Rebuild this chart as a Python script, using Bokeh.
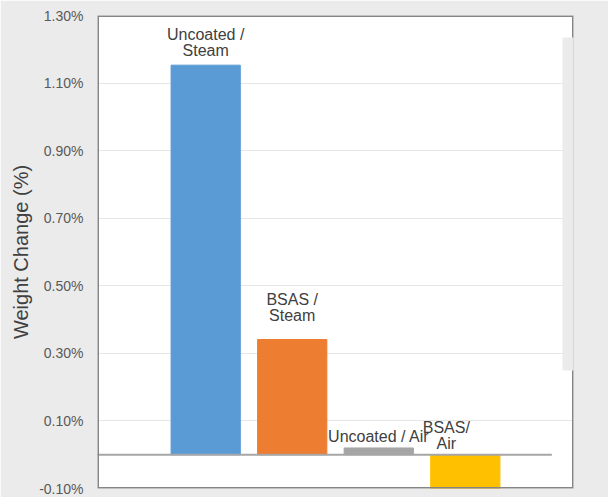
from bokeh.plotting import figure
from bokeh.models import ColumnDataSource, Range1d, FixedTicker, PrintfTickFormatter, BoxAnnotation
from bokeh.core.properties import value
from bokeh.embed import file_html
from bokeh.resources import INLINE

# ---- data ----
categories = ["Uncoated / Steam", "BSAS / Steam", "Uncoated / Air", "BSAS/ Air"]
bar_labels = ["Uncoated /\nSteam", "BSAS /\nSteam", "Uncoated / Air", "BSAS/\nAir"]
weight_change = [1.153, 0.341, 0.020, -0.100]   # percent
y_ticks = [-0.1, 0.1, 0.3, 0.5, 0.7, 0.9, 1.1, 1.3]

# ---- styles ----
bar_colors = ["#5b9bd5", "#ed7d31", "#a5a5a5", "#ffc000"]
label_dx = [0, 0, 0, -19]
label_dy = [-6, -15, -3, -3]
FONT = "Liberation Sans"
BG = "#ebebeb"

src = ColumnDataSource(dict(
    x=list(range(len(categories))),
    cat=categories,
    value=weight_change,
    label=bar_labels,
    label_y=[max(v, 0) for v in weight_change],
    color=bar_colors,
    dx=label_dx,
    dy=label_dy,
))

xr = Range1d(-1.25, len(categories) + 0.25)
yr = Range1d(y_ticks[0], y_ticks[-1])
p = figure(width=608, height=497, output_backend="svg", toolbar_location=None,
           x_range=xr, y_range=yr,
           min_border_left=97, min_border_right=35, min_border_top=15, min_border_bottom=9)

p.background_fill_color = "white"
p.border_fill_color = BG
p.outline_line_color = None

p.xaxis.visible = False
p.xgrid.visible = False
p.ygrid.ticker = FixedTicker(ticks=y_ticks)
p.ygrid.grid_line_color = "#e6e6e6"
p.ygrid.grid_line_width = 1

ax = p.yaxis[0]
ax.ticker = FixedTicker(ticks=y_ticks)
ax.formatter = PrintfTickFormatter(format="%.2f%%")
ax.axis_line_color = None
ax.major_tick_line_color = None
ax.minor_tick_line_color = None
ax.major_label_standoff = 8
ax.major_label_text_font = FONT
ax.major_label_text_font_size = "14px"
ax.major_label_text_color = "#595959"
ax.axis_label = "Weight Change (%)"
ax.axis_label_text_font = FONT
ax.axis_label_text_font_size = "20px"
ax.axis_label_text_font_style = "normal"
ax.axis_label_text_color = "#404040"
ax.axis_label_standoff = 4

p.vbar(x="x", top="value", bottom=0, width=0.8, color="color", source=src)

# zero baseline
p.segment(x0=[xr.start], y0=[0], x1=[len(categories)], y1=[0],
          line_color="#a6a6a6", line_width=2)

p.text(x="x", y="label_y", text="label", x_offset="dx", y_offset="dy", source=src,
       text_align="center", text_baseline="bottom", text_font=value(FONT),
       text_font_size="16px", text_color="#404040", text_line_height=0.95)

# frame border (drawn as a glyph so the patch below can cover part of it)
p.quad(left=[xr.start], right=[xr.end], bottom=[yr.start], top=[yr.end],
       fill_color=None, line_color="#858585", line_width=3)

# grey patch covering the right edge of the frame in the source screenshot
p.add_layout(BoxAnnotation(left=4.123, right=xr.end + 0.1, top=1.235, bottom=0.249,
                           fill_color=BG, fill_alpha=1, line_color=None, level="overlay"))

open("out.html", "w").write(file_html(p, INLINE))
